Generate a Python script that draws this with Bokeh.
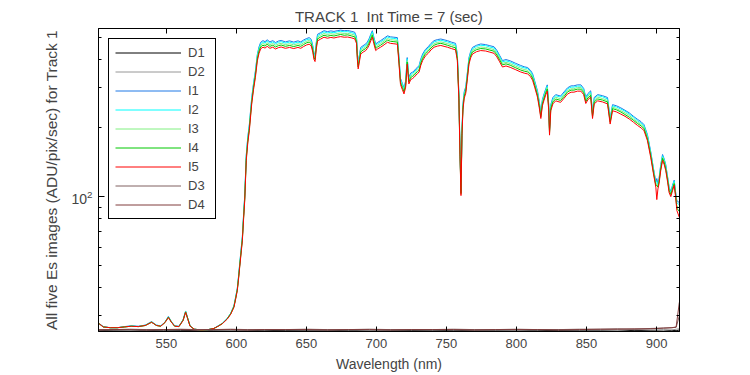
from bokeh.plotting import figure
from bokeh.models import (FixedTicker, LinearAxis, LogAxis, Range1d, LogTickFormatter,
                          CustomJSTickFormatter)
from bokeh.embed import file_html
from bokeh.resources import INLINE

FONT = "Liberation Sans"

# ---------------- data ----------------
x_ticks = [550, 600, 650, 700, 750, 800, 850, 900]
y_major = [100]
y_minor = [30, 40, 50, 60, 70, 80, 90, 200, 300, 400, 500]

wl = [502.0, 505, 510, 515, 520, 525, 530, 535, 539.5, 543,
      546, 549, 551.5, 553.5, 556, 559, 562, 563.8, 565.2, 567,
      570, 575, 580, 584, 587, 590, 593.5, 596, 598.3, 599.5,
      600.7, 601.5, 602.4, 603.6, 604.3, 605.2, 606, 607.1, 608.2, 609.3,
      611, 612.3, 613.6, 615, 616.2, 617.4, 619, 620.5, 622, 624,
      626, 628, 630, 632, 635, 638, 641, 644, 646, 648,
      650, 652, 653.5, 654.6, 655.4, 656.2, 657.1, 658, 660, 662.6,
      665, 667.5, 669.7, 672, 674.5, 677, 679.5, 682, 684.5, 685.8,
      686.4, 687, 687.7, 688.8, 690.5, 692.4, 693.5, 694.7, 696, 697.1,
      698.2, 699.5, 701, 703, 705.5, 707.9, 710, 712.5, 715, 716.1,
      717.2, 718.5, 719.7, 720.9, 722, 723.2, 724.5, 725.7, 727, 728.2,
      729.4, 730.5, 731.7, 733, 735, 737, 739, 741.2, 743.5, 746,
      748.3, 750.7, 753.5, 756.5, 757.8, 758.9, 759.7, 760.4, 761.1, 761.8,
      762.7, 763.8, 765, 766.1, 767.3, 768.6, 771.5, 774.5, 778, 781,
      784, 786, 788, 790, 792.5, 795.5, 799.5, 803, 805.5, 808,
      810, 811.5, 813, 815, 816.3, 817.4, 818.5, 819.7, 821, 822,
      823, 823.6, 824.5, 826, 828, 831.5, 834, 836.5, 839, 841,
      843.5, 846, 848, 849.5, 851, 853, 854.3, 855.5, 858, 861.5,
      865, 866.9, 868.6, 871.5, 874.5, 877.5, 880.5, 883.5, 886.5, 889,
      891, 893.5, 895.9, 897.8, 899.5, 900.2, 901, 901.8, 903, 904.3,
      905.5, 906.6, 908, 909, 910.2, 911.4, 912.6, 913.6, 914.5, 916.3]

i5 = [27.7, 26.8, 26.6, 26.6, 26.8, 27.0, 26.9, 27.2, 28.1, 27.2,
      27.0, 28.0, 29.5, 28.2, 27.0, 26.9, 28.6, 31.1, 29.2, 27.0,
      26.2, 26.0, 26.1, 26.4, 27.0, 27.7, 29.0, 30.5, 32.7, 35.5,
      38.7, 43, 49, 58, 64, 80, 96, 144, 172, 195,
      255, 295, 333, 394, 425, 445, 452, 448, 456, 447,
      452, 444, 450, 453, 447, 451, 446, 451, 447, 455,
      462, 466, 458, 430, 400, 391, 445, 482, 490, 500,
      495, 499, 496, 500, 503, 500, 501, 497, 492, 470,
      400, 363, 385, 422, 430, 437, 446, 460, 482, 500,
      468, 437, 445, 452, 463, 475, 470, 468, 466, 385,
      310, 295, 282, 302, 381, 312, 326, 329, 334, 341,
      346, 352, 376, 395, 414, 425, 440, 452, 457, 460,
      456, 452, 446, 440, 395, 265, 150, 101, 185, 240,
      270, 284, 330, 381, 406, 422, 432, 437, 435, 430,
      425, 410, 390, 370, 374, 369, 360, 352, 348, 345,
      336, 324, 302, 273, 245, 220, 250, 265, 280, 290,
      240, 186, 238, 255, 263, 259, 270, 282, 287, 287,
      290, 290, 280, 256, 266, 273, 220, 255, 263, 260,
      255, 208, 238, 235, 230, 225, 219, 212, 205, 200,
      195, 176, 148, 126, 110, 97, 108, 114, 130, 144,
      138, 130, 115, 104, 100, 106, 112, 100, 87, 81]

i4 = [27.7, 26.8, 26.6, 26.6, 26.8, 27.0, 26.9, 27.2, 28.1, 27.2,
      27.0, 28.0, 29.6, 28.2, 27.0, 26.9, 28.7, 31.2, 29.3, 27.0,
      26.2, 26.0, 26.1, 26.4, 27.0, 27.7, 29.1, 30.6, 32.9, 35.7,
      39.0, 43.4, 49.5, 58.7, 64.8, 81.2, 97.5, 146.6, 175.2, 199,
      260, 301, 340, 402, 434, 454, 461, 457, 466, 456,
      461, 453, 459, 462, 456, 460, 455, 460, 456, 464,
      472, 476, 468, 439, 408, 399, 454, 492, 500, 510,
      505, 509, 506, 510, 514, 510, 512, 507, 502, 480,
      408, 370, 393, 431, 439, 446, 455, 470, 492, 510,
      478, 446, 454, 461, 473, 485, 480, 478, 476, 393,
      316, 301, 288, 308, 389, 318, 333, 336, 341, 348,
      353, 359, 384, 403, 423, 434, 449, 461, 467, 470,
      466, 461, 455, 449, 403, 270, 153, 103, 189, 245,
      275, 290, 337, 389, 414, 431, 441, 446, 444, 439,
      434, 418, 398, 378, 382, 377, 367, 359, 355, 352,
      343, 331, 308, 278, 250, 224, 255, 270, 286, 296,
      245, 190, 243, 260, 268, 264, 275, 288, 293, 293,
      296, 296, 286, 261, 271, 278, 224, 260, 268, 265,
      260, 212, 243, 240, 235, 229, 223, 216, 209, 204,
      199, 179, 151, 128, 112, 112, 110, 116, 132, 147,
      141, 132, 117, 106, 102, 108, 114, 102, 89, 86]

i3 = [27.8, 26.8, 26.6, 26.6, 26.8, 27.0, 26.9, 27.2, 28.2, 27.2,
      27.0, 28.1, 29.6, 28.3, 27.0, 26.9, 28.7, 31.3, 29.3, 27.0,
      26.2, 26.0, 26.1, 26.4, 27.0, 27.8, 29.1, 30.7, 33.0, 35.9,
      39.2, 43.7, 49.9, 59.3, 65.5, 82.2, 98.8, 148.7, 177.8, 202,
      264, 306, 345, 409, 441, 462, 469, 465, 473, 464,
      469, 461, 467, 470, 464, 468, 463, 468, 464, 472,
      479, 484, 475, 446, 415, 406, 462, 500, 509, 519,
      514, 518, 515, 519, 522, 519, 520, 516, 511, 488,
      415, 377, 399, 438, 446, 453, 463, 477, 500, 519,
      486, 453, 462, 469, 481, 493, 488, 486, 484, 399,
      321, 306, 292, 313, 395, 323, 338, 341, 346, 354,
      359, 365, 390, 410, 430, 441, 457, 469, 474, 477,
      473, 469, 463, 457, 410, 275, 155, 104, 191, 249,
      280, 294, 342, 395, 421, 438, 448, 453, 451, 446,
      441, 425, 405, 384, 388, 383, 373, 365, 361, 358,
      348, 336, 313, 283, 254, 228, 259, 275, 290, 301,
      249, 192, 247, 264, 273, 268, 280, 292, 297, 297,
      301, 301, 290, 265, 276, 283, 228, 264, 273, 269,
      264, 215, 247, 243, 238, 233, 227, 219, 212, 207,
      202, 182, 153, 130, 113, 114, 111, 118, 134, 149,
      143, 134, 119, 107, 103, 109, 115, 103, 91, 89]

i2 = [27.8, 26.8, 26.6, 26.6, 26.8, 27.1, 26.9, 27.3, 28.2, 27.3,
      27.1, 28.1, 29.7, 28.3, 27.1, 26.9, 28.8, 31.4, 29.4, 27.1,
      26.2, 26.0, 26.1, 26.4, 27.1, 27.8, 29.2, 30.8, 33.1, 36.1,
      39.4, 44.0, 50.3, 59.9, 66.2, 83.1, 100.1, 150.8, 180.5, 205,
      268, 311, 351, 415, 448, 469, 477, 472, 481, 471,
      477, 468, 475, 478, 471, 476, 470, 476, 471, 480,
      487, 491, 483, 453, 422, 412, 469, 508, 517, 528,
      522, 526, 523, 528, 531, 528, 529, 524, 519, 496,
      422, 383, 406, 445, 453, 461, 470, 485, 508, 528,
      494, 461, 469, 477, 488, 501, 496, 494, 491, 406,
      327, 311, 297, 318, 402, 329, 343, 347, 352, 359,
      365, 371, 396, 416, 437, 448, 464, 477, 482, 485,
      481, 477, 470, 464, 416, 279, 157, 105, 194, 252,
      284, 299, 348, 402, 428, 445, 456, 461, 459, 453,
      448, 432, 411, 390, 394, 389, 379, 371, 367, 364,
      354, 341, 318, 287, 258, 231, 263, 279, 295, 305,
      252, 195, 250, 268, 277, 273, 284, 297, 302, 302,
      305, 305, 295, 269, 280, 287, 231, 268, 277, 274,
      268, 219, 250, 247, 242, 237, 230, 223, 215, 210,
      205, 185, 155, 132, 115, 117, 113, 119, 136, 151,
      145, 136, 120, 109, 104, 111, 117, 104, 94, 92]

i1 = [27.8, 26.9, 26.6, 26.6, 26.9, 27.1, 27.0, 27.3, 28.3, 27.3,
      27.1, 28.1, 29.8, 28.4, 27.1, 27.0, 28.8, 31.5, 29.4, 27.1,
      26.2, 26.0, 26.1, 26.4, 27.1, 27.8, 29.2, 30.8, 33.2, 36.2,
      39.6, 44.2, 50.7, 60.3, 66.7, 83.9, 101, 152.5, 182.5, 207,
      272, 314, 355, 420, 454, 475, 483, 478, 487, 477,
      483, 474, 481, 484, 477, 482, 476, 482, 477, 486,
      493, 498, 489, 459, 427, 417, 475, 515, 523, 534,
      529, 533, 530, 534, 537, 534, 535, 531, 526, 502,
      427, 387, 411, 451, 459, 467, 476, 491, 515, 534,
      500, 467, 475, 483, 495, 507, 502, 500, 498, 411,
      330, 314, 300, 322, 407, 333, 348, 351, 356, 364,
      369, 376, 401, 422, 442, 454, 470, 483, 488, 491,
      487, 483, 476, 470, 422, 282, 159, 106, 196, 255,
      288, 303, 352, 407, 433, 451, 461, 467, 464, 459,
      454, 438, 416, 395, 399, 394, 384, 376, 371, 368,
      358, 346, 322, 291, 261, 234, 266, 282, 298, 309,
      255, 198, 253, 272, 280, 276, 288, 300, 306, 306,
      309, 309, 298, 273, 283, 291, 234, 272, 280, 277,
      272, 221, 253, 250, 245, 239, 233, 225, 218, 213,
      207, 187, 157, 133, 116, 120, 114, 120, 138, 153,
      146, 138, 121, 110, 105, 112, 118, 105, 96, 94]

dark_wl = [502, 512, 524, 536, 548, 560, 572, 584, 596, 608,
           620, 635, 650, 665, 680, 695, 710, 725, 740, 755,
           770, 785, 800, 815, 830, 845, 860, 872, 884, 896,
           905, 911, 914, 916.3]
d1 = [25.9, 25.8, 25.8, 25.9, 25.8, 25.8, 25.9, 25.8, 25.8, 25.8,
      25.9, 25.8, 25.8, 25.8, 25.9, 25.8, 25.8, 25.8, 25.8, 25.9,
      25.8, 25.8, 25.8, 25.9, 25.8, 25.8, 25.8, 25.7, 25.9, 25.8,
      25.7, 25.9, 25.8, 26.0]
d2 = [26.0, 26.0, 25.9, 26.0, 26.0, 26.1, 26.0, 26.0, 25.9, 26.0,
      26.0, 26.1, 26.0, 26.0, 26.0, 25.9, 26.0, 26.1, 26.0, 26.0,
      26.0, 26.0, 25.9, 26.0, 26.1, 26.0, 26.0, 26.0, 26.1, 26.0,
      26.1, 26.0, 26.2, 26.3]
d3 = [26.1, 26.1, 26.2, 26.1, 26.1, 26.2, 26.1, 26.1, 26.2, 26.1,
      26.1, 26.1, 26.2, 26.1, 26.1, 26.2, 26.1, 26.1, 26.1, 26.2,
      26.1, 26.1, 26.2, 26.1, 26.1, 26.2, 26.2, 26.3, 26.2, 26.4,
      26.5, 26.6, 26.7, 30.0]
d4 = [26.0, 26.1, 26.1, 26.0, 26.1, 26.1, 26.0, 26.1, 26.1, 26.0,
      26.1, 26.1, 26.1, 26.0, 26.1, 26.1, 26.0, 26.1, 26.1, 26.1,
      26.0, 26.1, 26.1, 26.1, 26.0, 26.1, 26.2, 26.2, 26.3, 26.3,
      26.5, 26.6, 26.8, 34.4]

series_names = ["D1", "D2", "I1", "I2", "I3", "I4", "I5", "D3", "D4"]
series_x = [dark_wl, dark_wl, wl, wl, wl, wl, wl, dark_wl, dark_wl]
series_y = [d1, d2, i1, i2, i3, i4, i5, d3, d4]
series_colors = ["#000000", "#969696", "#1e78e6", "#00ffff", "#80f080",
                 "#00c800", "#ff0000", "#806060", "#803c3c"]

# ---------------- figure ----------------
p = figure(width=750, height=375, output_backend="svg", toolbar_location=None,
           y_axis_type="log",
           x_range=Range1d(501.6, 916.4), y_range=Range1d(25.6, 546),
           min_border_left=98, min_border_right=71,
           min_border_top=28, min_border_bottom=44,
           title="TRACK 1\u00a0 Int Time = 7 (sec)")
p.background_fill_color = "white"
p.border_fill_color = "white"
p.outline_line_color = "black"
p.outline_line_alpha = 1.0
p.xgrid.visible = False
p.ygrid.visible = False

p.title.text_font = FONT
p.title.text_font_size = "15px"
p.title.text_font_style = "normal"
p.title.align = "center"
p.title.standoff = 7

x_ticker = FixedTicker(ticks=x_ticks, minor_ticks=[])
y_ticker = FixedTicker(ticks=y_major, minor_ticks=y_minor)

for ax in p.xaxis:
    ax.ticker = x_ticker
    ax.axis_label = "Wavelength (nm)"
    ax.axis_label_text_font = FONT
    ax.axis_label_text_font_size = "14px"
    ax.axis_label_text_font_style = "normal"
    ax.axis_label_standoff = 5
    ax.major_label_text_font = FONT
    ax.major_label_text_font_size = "13px"
    ax.major_label_standoff = 7
    ax.major_tick_in = 5
    ax.major_tick_out = 0
    ax.minor_tick_in = 0
    ax.minor_tick_out = 0
    ax.axis_line_color = "black"

for ax in p.yaxis:
    ax.ticker = y_ticker
    ax.formatter = LogTickFormatter()
    ax.axis_label = "All five Es images (ADU/pix/sec) for Track 1"
    ax.axis_label_text_font = FONT
    ax.axis_label_text_font_size = "15.5px"
    ax.axis_label_text_font_style = "normal"
    ax.axis_label_standoff = 8
    ax.major_label_text_font = FONT
    ax.major_label_text_font_size = "14px"
    ax.major_label_standoff = 6
    ax.major_tick_in = 6
    ax.major_tick_out = 0
    ax.minor_tick_in = 3
    ax.minor_tick_out = 0
    ax.axis_line_color = "black"

blank = CustomJSTickFormatter(code="return ''")
top_axis = LinearAxis(ticker=x_ticker, formatter=blank,
                      major_tick_in=5, major_tick_out=0,
                      minor_tick_in=0, minor_tick_out=0,
                      major_label_standoff=0, axis_line_color="black")
p.add_layout(top_axis, "above")
right_axis = LogAxis(ticker=y_ticker, formatter=blank,
                     major_tick_in=6, major_tick_out=0,
                     minor_tick_in=3, minor_tick_out=0,
                     major_label_standoff=0, axis_line_color="black")
p.add_layout(right_axis, "right")

for name, xs, ys, col in zip(series_names, series_x, series_y, series_colors):
    p.line(xs, ys, line_color=col, line_width=1, legend_label=name)

leg = p.legend[0]
leg.location = "top_left"
leg.margin = 10
leg.padding = 6
leg.spacing = 4
leg.glyph_height = 15
leg.label_height = 15
leg.glyph_width = 66
leg.label_standoff = 7
leg.label_width = 21
leg.label_text_font = FONT
leg.label_text_font_size = "13px"
leg.border_line_color = "black"
leg.border_line_width = 1
leg.border_line_alpha = 1.0
leg.background_fill_color = "white"
leg.background_fill_alpha = 1.0

open("out.html", "w").write(file_html(p, INLINE))
